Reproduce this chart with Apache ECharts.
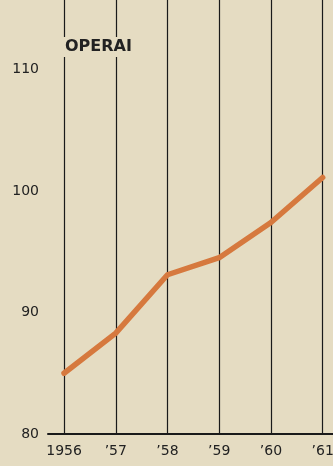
<!DOCTYPE html>
<html>
<head>
<meta charset="utf-8">
<script src="https://cdn.jsdelivr.net/npm/echarts@6/dist/echarts.min.js"></script>
<style>
html,body{margin:0;padding:0;background:#e5dcc2;overflow:hidden;}
#c{width:333px;height:466px;}
</style>
</head>
<body>
<div id="c"></div>
<script>
var years = [1956, 1957, 1958, 1959, 1960, 1961];
var yearLabels = ['1956', '\u201957', '\u201958', '\u201959', '\u201960', '\u201961'];
var operai = [85.0, 88.3, 93.1, 94.5, 97.4, 101.1];
var yTicks = [80, 90, 100, 110];
var title = 'OPERAI';

var chart = echarts.init(document.getElementById('c'), null, {renderer: 'canvas'});
var font = '"DejaVu Sans", sans-serif';
chart.setOption({
  backgroundColor: '#e5dcc2',
  animation: false,
  title: {
    text: title,
    left: 63, top: 37, padding: [2, 2, 2, 2],
    backgroundColor: '#e5dcc2',
    textStyle: {fontFamily: font, fontSize: 16, fontWeight: 'bold', color: '#222'}
  },
  grid: {left: 48, right: 0, top: 0, bottom: 32, containLabel: false, outerBoundsMode: 'none'},
  xAxis: {
    type: 'value',
    min: 1955.69, max: 1961.2,
    axisLine: {show: true, lineStyle: {color: '#1a1a1a', width: 2}},
    axisTick: {show: false},
    splitLine: {show: true, showMinLine: false, showMaxLine: false, lineStyle: {color: '#1a1a1a', width: 1.2}},
    axisLabel: {
      showMinLabel: false, showMaxLabel: false,
      margin: 10,
      fontFamily: font, fontSize: 14, color: '#222',
      formatter: function (v) {
        var i = years.indexOf(Math.round(v));
        return (i >= 0 && Math.abs(v - years[i]) < 0.01) ? yearLabels[i] : '';
      }
    }
  },
  yAxis: {
    type: 'value',
    min: 80, max: 115.7, interval: 10,
    axisLine: {show: false},
    axisTick: {show: false},
    splitLine: {show: false},
    axisLabel: {
      showMaxLabel: false,
      margin: 9,
      fontFamily: font, fontSize: 14, color: '#222',
      formatter: function (v) { return yTicks.indexOf(v) >= 0 ? String(v) : ''; }
    }
  },
  series: [{
    type: 'line',
    data: years.map(function (y, i) { return [y, operai[i]]; }),
    symbol: 'none',
    lineStyle: {color: '#d6793e', width: 5.5, cap: 'round', join: 'round'},
    z: 5
  }]
});
</script>
</body>
</html>
